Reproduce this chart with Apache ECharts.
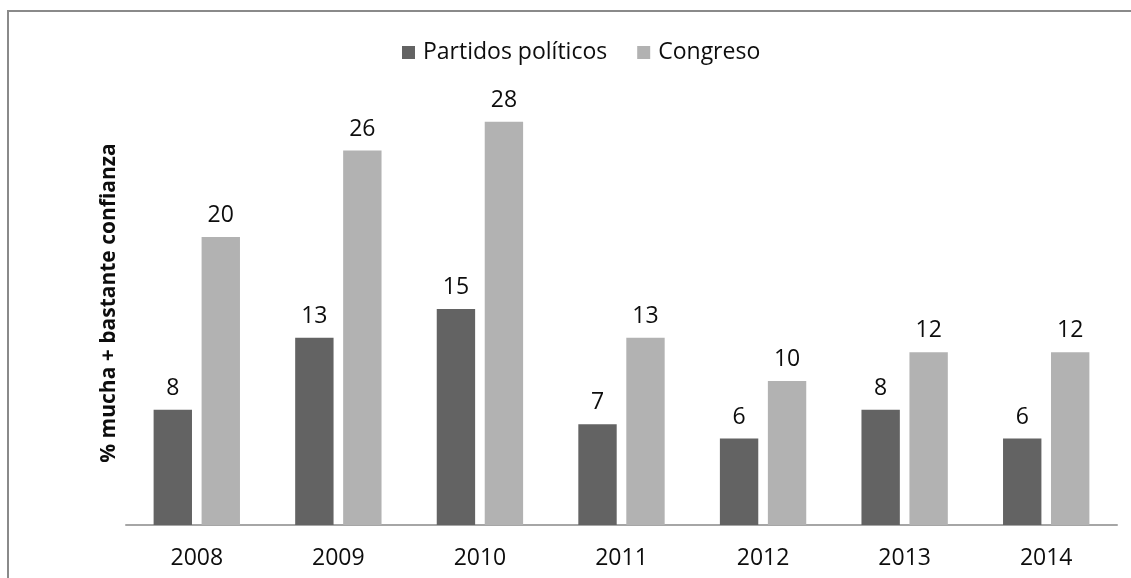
<!DOCTYPE html>
<html>
<head>
<meta charset="utf-8">
<style>
  html, body { margin: 0; padding: 0; background: #ffffff; }
  #chart { width: 1131px; height: 578px; }
</style>
<script src="https://cdn.jsdelivr.net/npm/echarts@6/dist/echarts.min.js"></script>
</head>
<body>
<div id="chart"></div>
<script>
// Survey years and share of respondents with "mucha + bastante" confidence
const years = ['2008', '2009', '2010', '2011', '2012', '2013', '2014'];
const partidos = [8, 13, 15, 7, 6, 8, 6];
const congreso = [20, 26, 28, 13, 10, 12, 12];
const seriesNames = ['Partidos políticos', 'Congreso'];
const yAxisTitle = '% mucha + bastante confianza';

const FONT = '"Open Sans", "Noto Sans", sans-serif';
const TEXT = '#0d0d0d';

const chart = echarts.init(document.getElementById('chart'), null, { renderer: 'canvas' });

const labelStyle = {
  show: true,
  position: 'top',
  distance: 10,
  color: TEXT,
  fontFamily: FONT,
  fontSize: 23
};

chart.setOption({
  backgroundColor: '#ffffff',
  animation: false,
  graphic: [{
    type: 'rect',
    shape: { x: 8, y: 11, width: 1300, height: 800 },
    style: { fill: 'none', stroke: '#8a8a8a', lineWidth: 2 },
    silent: true
  }],
  legend: {
    data: seriesNames,
    left: 397,
    top: 36,
    itemWidth: 13,
    itemHeight: 13,
    itemGap: 30,
    icon: 'rect',
    textStyle: { color: TEXT, fontFamily: FONT, fontSize: 23, padding: [0, 0, 0, 3] }
  },
  grid: { left: 126, right: 14, top: 93, bottom: 53 },
  xAxis: {
    type: 'category',
    data: years,
    axisLine: { show: true, lineStyle: { color: '#a6a6a6', width: 2 } },
    axisTick: { show: false },
    axisLabel: { color: TEXT, fontFamily: FONT, fontSize: 23, margin: 22 }
  },
  yAxis: {
    type: 'value',
    min: 0,
    max: 30,
    name: yAxisTitle,
    nameLocation: 'middle',
    nameGap: 6,
    nameTextStyle: { color: TEXT, fontFamily: FONT, fontSize: 21, fontWeight: 'bold', padding: [0, 0, 0, 12] },
    axisLine: { show: false },
    axisTick: { show: false },
    axisLabel: { show: false },
    splitLine: { show: false }
  },
  series: [
    {
      name: seriesNames[0],
      type: 'bar',
      data: partidos,
      itemStyle: { color: '#636363' },
      barGap: '25%',
      barCategoryGap: '39%',
      label: labelStyle
    },
    {
      name: seriesNames[1],
      type: 'bar',
      data: congreso,
      itemStyle: { color: '#b2b2b2' },
      label: labelStyle
    }
  ]
});
</script>
</body>
</html>
